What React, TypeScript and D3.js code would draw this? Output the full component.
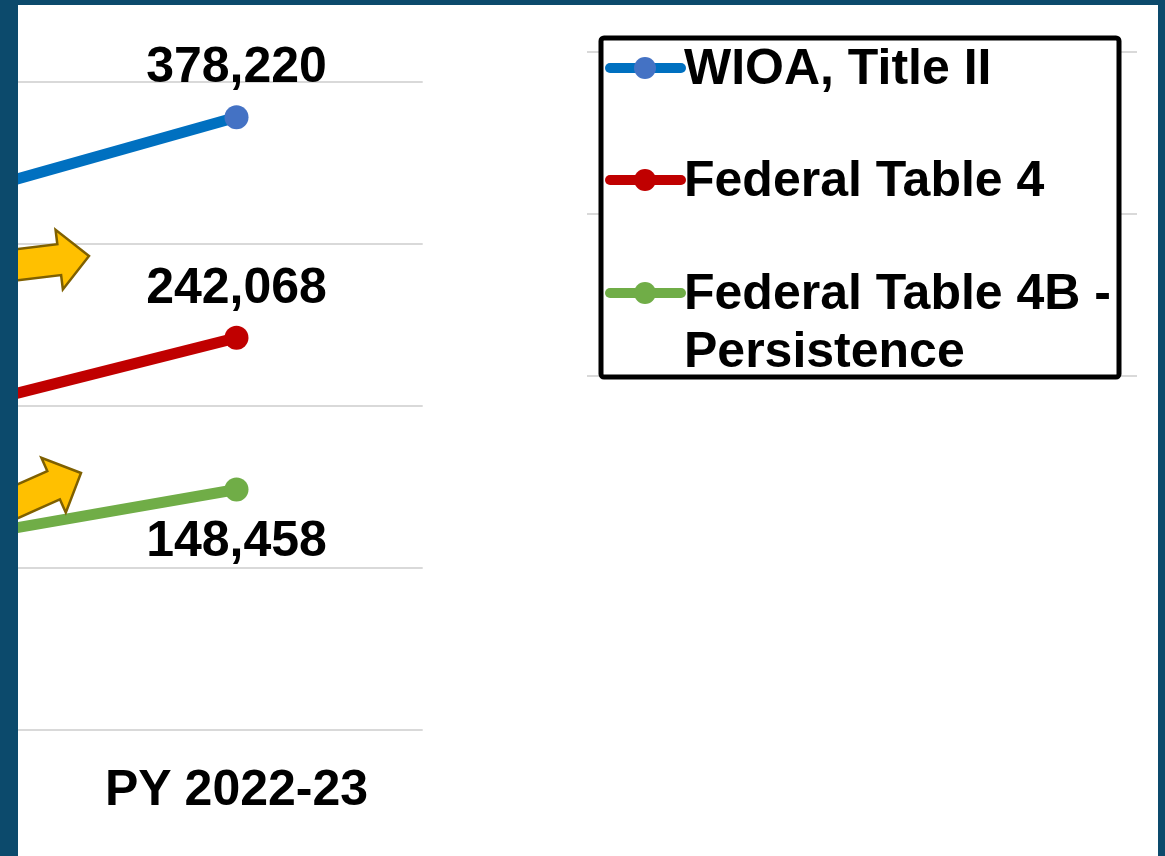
import React from "react";
import * as d3 from "d3";

const categories = ["PY 2021-22", "PY 2022-23"];
const wioaTitleII = [313500, 378220];
const federalTable4 = [184000, 242068];
const federalTable4B = [108500, 148458];
const yTicks = [0, 100000, 200000, 300000, 400000];
const rightGridTicks = [0, 1, 2];
const legendLabels = [["WIOA, Title II"], ["Federal Table 4"], ["Federal Table 4B -", "Persistence"]];

const W = 1165;
const H = 856;
const FONT = "'Liberation Sans', Arial, Helvetica, sans-serif";

const series = [
  { name: "WIOA, Title II", values: wioaTitleII, line: "#0070c0", marker: "#4472c4", labelPos: "above" },
  { name: "Federal Table 4", values: federalTable4, line: "#c00000", marker: "#c00000", labelPos: "above" },
  { name: "Federal Table 4B - Persistence", values: federalTable4B, line: "#70ad47", marker: "#70ad47", labelPos: "below" },
];

function arrowPath(): string {
  // local coords: tip at origin, pointing +x
  const L = 170, hl = 30, sw = 15.5, hw = 30;
  return `M0,0 L${-hl},${-hw} L${-hl},${-sw} L${-L},${-sw} L${-L},${sw} L${-hl},${sw} L${-hl},${hw} Z`;
}

export default function App() {
  const plotRight = 422.7;
  const step = 372.4;
  const x = d3.scaleBand<string>().domain(categories).range([plotRight - step * categories.length, plotRight]).padding(0);
  const cx = (c: string) => (x(c) as number) + x.bandwidth() / 2;
  const y = d3.scaleLinear().domain([0, 400000]).range([730, 82]);
  const yRight = d3.scaleLinear().domain([0, 2]).range([376, 52]);
  const fmt = d3.format(",");
  const line = d3.line<number>().x((_, i) => cx(categories[i])).y((v) => y(v));
  const last = categories.length - 1;

  const legendX = 601, legendY = 38, legendW = 518, legendH = 339;
  const legendRowY = [68, 180, 293];
  const textBaselineOffset = 16;

  return (
    <>
      <style>{`body{margin:0;}`}</style>
      <svg width={W} height={H} style={{ display: "block" }}>
        <defs>
          <clipPath id="panel">
            <rect x={18} y={5} width={1140} height={H} />
          </clipPath>
        </defs>
        <rect x={0} y={0} width={W} height={H} fill="#0c4a6c" />
        <rect x={18} y={5} width={1140} height={H} fill="#ffffff" />
        <g clipPath="url(#panel)">
          {yTicks.map((t) => (
            <line key={t} x1={0} x2={plotRight} y1={y(t)} y2={y(t)} stroke="#d9d9d9" strokeWidth={2} />
          ))}
          {rightGridTicks.map((t) => (
            <line key={"r" + t} x1={587} x2={1137} y1={yRight(t)} y2={yRight(t)} stroke="#d9d9d9" strokeWidth={2} />
          ))}
          {series.map((s) => (
            <g key={s.name}>
              <path d={line(s.values) || ""} fill="none" stroke={s.line} strokeWidth={11} />
              {s.values.map((v, i) => (
                <circle key={i} cx={cx(categories[i])} cy={y(v)} r={12} fill={s.marker} />
              ))}
              <text
                x={cx(categories[last])}
                y={s.labelPos === "above" ? y(s.values[last]) - 35 : y(s.values[last]) + 67}
                textAnchor="middle"
                fontFamily={FONT}
                fontWeight="bold"
                fontSize={50}
                fill="#000"
              >
                {fmt(s.values[last])}
              </text>
            </g>
          ))}
          <text x={cx(categories[last])} y={805} textAnchor="middle" fontFamily={FONT} fontWeight="bold" fontSize={50} fill="#000">
            {categories[last]}
          </text>
          <path d={arrowPath()} transform="translate(89,256) rotate(-7)" fill="#ffc000" stroke="#7f6000" strokeWidth={2.5} strokeLinejoin="miter" />
          <path d={arrowPath()} transform="translate(81,473) rotate(-24)" fill="#ffc000" stroke="#7f6000" strokeWidth={2.5} strokeLinejoin="miter" />
          <rect x={legendX} y={legendY} width={legendW} height={legendH} rx={3} fill="#ffffff" stroke="#000" strokeWidth={5} />
          {series.map((s, i) => (
            <g key={"lg" + i}>
              <line x1={610} x2={681} y1={legendRowY[i]} y2={legendRowY[i]} stroke={s.line} strokeWidth={10} strokeLinecap="round" />
              <circle cx={645} cy={legendRowY[i]} r={11} fill={s.marker} />
              {legendLabels[i].map((t, j) => (
                <text key={j} x={684} y={legendRowY[i] + textBaselineOffset + j * 58} fontFamily={FONT} fontWeight="bold" fontSize={50} fill="#000">
                  {t}
                </text>
              ))}
            </g>
          ))}
        </g>
      </svg>
    </>
  );
}
